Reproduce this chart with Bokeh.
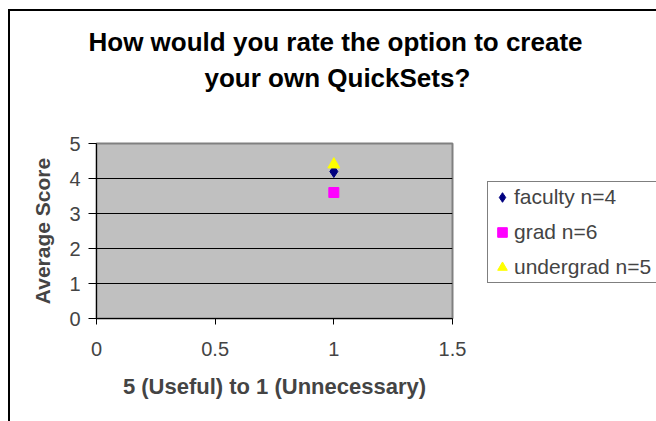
from bokeh.plotting import figure
from bokeh.models import Range1d, FixedTicker, Legend, LegendItem, Title
from bokeh.embed import file_html
from bokeh.resources import INLINE

# ---- data ----
series_names = ["faculty n=4", "grad n=6", "undergrad n=5"]
x_values = [1, 1, 1]
y_values = [4.2, 3.6, 4.4]
markers = ["diamond", "square", "triangle"]
sizes = [12, 10, 12]
colors = ["#000080", "#FF00FF", "#FFFF00"]
x_ticks = [0, 0.5, 1, 1.5]
x_tick_labels = ["0", "0.5", "1", "1.5"]
y_ticks = [0, 1, 2, 3, 4, 5]
grid_ticks = [1, 2, 3, 4]
title_lines = ["How would you rate the option to create", "your own QuickSets?"]
x_label = "5 (Useful) to 1 (Unnecessary)"
y_label = "Average Score"

FONT = "Liberation Sans"

p = figure(frame_width=356, frame_height=175, output_backend="svg", toolbar_location=None,
           x_range=Range1d(0, 1.5), y_range=Range1d(0, 5))
p.min_border_left = 96
p.min_border_right = 204
p.min_border_top = 143
p.min_border_bottom = 103
p.background_fill_color = "#C0C0C0"
p.border_fill_color = "white"
p.border_fill_alpha = 0
p.outline_line_color = "#808080"
p.outline_line_width = 2
# outer chart-area border (left and top edges visible)
p.styles = {
    "background-color": "white",
    "background-image": "linear-gradient(#000,#000), linear-gradient(#000,#000)",
    "background-size": "2px 100%, 100% 2px",
    "background-position": "8px 9px, 8px 9px",
    "background-repeat": "no-repeat",
}

# grids
p.xgrid.visible = False
p.ygrid.ticker = FixedTicker(ticks=grid_ticks)
p.ygrid.grid_line_color = "black"
p.ygrid.grid_line_width = 1

# x axis
p.xaxis.ticker = FixedTicker(ticks=x_ticks)
p.xaxis.major_label_overrides = {t: l for t, l in zip(x_ticks, x_tick_labels)}
p.xaxis.axis_label = x_label
p.xaxis.axis_label_text_font = FONT
p.xaxis.axis_label_text_font_style = "bold"
p.xaxis.axis_label_text_font_size = "22px"
p.xaxis.axis_label_standoff = 15
p.xaxis.major_label_text_font = FONT
p.xaxis.major_label_text_font_size = "20px"
p.xaxis.major_label_standoff = 17
p.xaxis.major_tick_out = 6
p.xaxis.major_tick_in = 0
p.xaxis.minor_tick_out = 0
p.xaxis.minor_tick_in = 0
p.xaxis.axis_line_color = "black"
p.xaxis.major_tick_line_color = "black"

# y axis
p.yaxis.ticker = FixedTicker(ticks=y_ticks)
p.yaxis.axis_label = y_label
p.yaxis.axis_label_text_font = FONT
p.yaxis.axis_label_text_font_style = "bold"
p.yaxis.axis_label_text_font_size = "21px"
p.yaxis.axis_label_standoff = 12
p.yaxis.major_label_text_font = FONT
p.yaxis.major_label_text_font_size = "20px"
p.yaxis.major_label_standoff = 8
p.yaxis.major_tick_out = 8
p.yaxis.major_tick_in = 0
p.yaxis.minor_tick_out = 0
p.yaxis.minor_tick_in = 0
p.yaxis.axis_line_color = "black"
p.yaxis.major_tick_line_color = "black"

# points
items = []
for name, xv, yv, m, s, c in zip(series_names, x_values, y_values, markers, sizes, colors):
    r = p.scatter(x=[xv], y=[yv], marker=m, size=s, fill_color=c, line_color=c)
    items.append(LegendItem(label=name, renderers=[r]))

legend = Legend(items=items, location=(35, 35), orientation="vertical",
                label_text_font=FONT, label_text_font_size="21px",
                glyph_width=24, glyph_height=26, label_height=26, label_width=142,
                label_standoff=0, spacing=9, padding=2, margin=0,
                border_line_color="black", border_line_width=1,
                background_fill_color="white", background_fill_alpha=1)
p.add_layout(legend, "right")

# title: spacer, then the two centred lines (stacked upward from the frame)
p.add_layout(Title(text=" ", text_font_size="1px", standoff=46), "above")
p.add_layout(Title(text=title_lines[1], align="left", offset=108, standoff=4,
                   vertical_align="bottom", text_font=FONT, text_font_style="bold",
                   text_font_size="26px", text_color="black"), "above")
p.add_layout(Title(text=title_lines[0], align="left", offset=-8, standoff=4,
                   vertical_align="bottom", text_font=FONT, text_font_style="bold",
                   text_font_size="26px", text_color="black"), "above")

open("out.html", "w").write(file_html(p, INLINE))
